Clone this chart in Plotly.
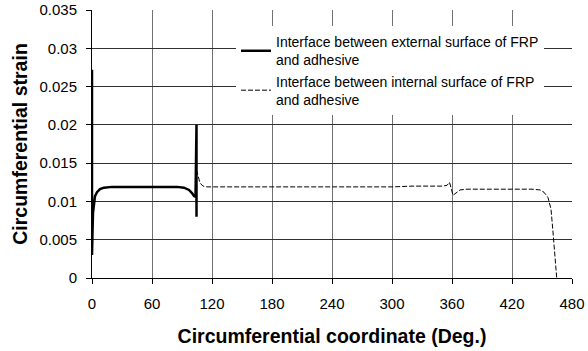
import plotly.graph_objects as go

# External surface interface (solid)
x_ext = [0, 0, 0.5, 1, 2, 3, 5, 8, 12, 20, 60, 85, 92, 97, 100, 102, 103.5, 104.5, 104.5]
y_ext = [0.0272, 0.003, 0.006, 0.0085, 0.0100, 0.0107, 0.0112, 0.0116, 0.0118, 0.0119,
         0.0119, 0.0119, 0.0118, 0.0115, 0.0111, 0.0107, 0.0106, 0.0200, 0.0080]

# Internal surface interface (dashed)
x_int = [104.5, 106, 108, 111, 115, 250, 300, 320, 350, 355, 357.5, 359, 361, 364, 368, 375,
         440, 448, 452, 456, 459, 461, 463, 464, 464.5, 464.7]
y_int = [0.0141, 0.0132, 0.0124, 0.0120, 0.0119, 0.0119, 0.0119, 0.0120, 0.0120, 0.0121,
         0.0125, 0.0118, 0.0108, 0.0111, 0.0115, 0.0116, 0.0116, 0.0115, 0.0112, 0.0105,
         0.0090, 0.0060, 0.0025, 0.0015, 0.0008, 0.0]

x_ticks = [0, 60, 120, 180, 240, 300, 360, 420, 480]
y_ticks = [0, 0.005, 0.01, 0.015, 0.02, 0.025, 0.03, 0.035]
y_tick_text = ["0", "0.005", "0.01", "0.015", "0.02", "0.025", "0.03", "0.035"]

FONT = "Liberation Sans, Arial, sans-serif"

fig = go.Figure()
fig.add_trace(go.Scatter(
    x=x_ext, y=y_ext, mode="lines",
    line=dict(color="black", width=2.5),
    name="Interface between external surface of FRP<br>and adhesive",
    legendgroup="a",
))
fig.add_trace(go.Scatter(
    x=x_int, y=y_int, mode="lines",
    line=dict(color="black", width=1, dash="5px,2px"),
    name="Interface between internal surface of FRP<br>and adhesive",
    legendgroup="b",
))

fig.update_layout(
    width=588, height=351,
    margin=dict(l=92, r=16, t=10, b=73, autoexpand=False),
    paper_bgcolor="white", plot_bgcolor="white",
    font=dict(family=FONT, color="black"),
    showlegend=True,
    legend=dict(
        x=0.3, y=0.94, xanchor="left", yanchor="top",
        bgcolor="white", borderwidth=0,
        font=dict(size=14, color="black", family=FONT),
        tracegroupgap=0,
        itemwidth=30,
    ),
    xaxis=dict(
        range=[0, 480], tickvals=x_ticks, ticks="outside", ticklen=5,
        tickcolor="black", showline=True, linecolor="black", linewidth=1,
        showgrid=True, gridcolor="#707070", gridwidth=1.3,
        zeroline=False, tickfont=dict(size=15), ticklabelstandoff=7,
        automargin=False,
        title=dict(text="<b>Circumferential coordinate (Deg.)</b>", font=dict(size=19.5), standoff=18),
    ),
    yaxis=dict(
        range=[0, 0.035], tickvals=y_ticks, ticktext=y_tick_text, ticks="outside", ticklen=5,
        tickcolor="black", showline=True, linecolor="black", linewidth=1,
        showgrid=True, gridcolor="#303030", gridwidth=1,
        zeroline=False, tickfont=dict(size=15), ticklabelstandoff=6,
        automargin=False,
        title=dict(text="<b>Circumferential strain</b>", font=dict(size=19.5), standoff=6),
    ),
)

fig.write_html("out.html")
